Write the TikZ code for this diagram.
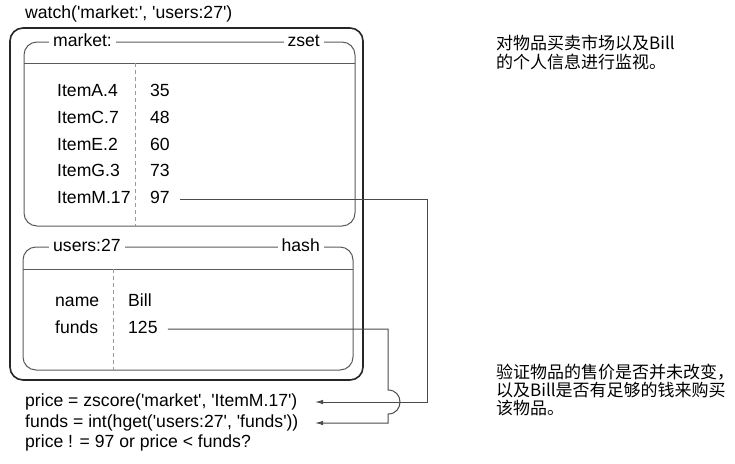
\documentclass[tikz,border=0pt]{standalone}
\usepackage{fontspec}
\setmainfont{Liberation Sans}[Ligatures=TeXOff]
\newfontfamily\cjk{Noto Sans CJK SC}
\usetikzlibrary{arrows.meta}

\definecolor{boxgray}{HTML}{5A5A5A}
\definecolor{linkgray}{HTML}{4A4A4A}
\definecolor{dashgray}{HTML}{9A9A9A}

\begin{document}
\begin{tikzpicture}[x=1pt, y=-1pt]
    % Define styles
    \tikzstyle{txt} = [anchor=west, inner sep=0pt, font=\fontsize{17.6}{20}\selectfont, text height=12.5pt, text depth=3.5pt]
    \tikzstyle{head} = [txt, fill=white, inner xsep=4pt]
    \tikzstyle{note} = [anchor=west, inner sep=0pt, align=left, font=\cjk\fontsize{17}{18.4}\selectfont]
    \tikzstyle{outerbox} = [draw=black!85, line width=1.6pt, rounded corners=13pt]
    \tikzstyle{keybox} = [draw=boxgray, line width=1pt, rounded corners=13pt]
    \tikzstyle{sep} = [draw=dashgray, line width=0.9pt, dash pattern=on 4pt off 3pt]
    \tikzstyle{link} = [draw=linkgray, line width=1pt, -{Latex[length=8pt,width=4.5pt]}]

    \useasboundingbox (0,0) rectangle (735,463);

    % Boxes
    \draw[outerbox] (10,28) rectangle (363,380);
    \draw[keybox] (24,42) rectangle (355,226);
    \draw[keybox] (23,247) rectangle (353,370);
    \draw[draw=boxgray, line width=1pt] (24,63) -- (355,63);
    \draw[draw=boxgray, line width=1pt] (23,269) -- (353,269);
    \draw[sep] (135,63) -- (135,226);
    \draw[sep] (113,269) -- (113,370);

    % Nodes
    \node[txt] (watch) at (25,14) {watch('market:', 'users:27')};
    \node[head] (mname) at (49,42) {market:};
    \node[head, anchor=east] (mtype) at (324,42) {zset};
    \node[head] (uname) at (49,247) {users:27};
    \node[head, anchor=east] (utype) at (324,247) {hash};

    \foreach \key/\val [count=\i] in {ItemA.4/35, ItemC.7/48, ItemE.2/60, ItemG.3/73, ItemM.17/97} {
        \node[txt] (mkey\i) at (57,{92+26.8*(\i-1)}) {\key};
        \node[txt] (mval\i) at (150,{92+26.8*(\i-1)}) {\val};
    }
    \foreach \key/\val [count=\i] in {name/Bill, funds/125} {
        \node[txt] (ukey\i) at (55,{302+27*(\i-1)}) {\key};
        \node[txt] (uval\i) at (128,{302+27*(\i-1)}) {\val};
    }

    \node[txt] (price) at (25,402) {price = zscore('market', 'ItemM.17')};
    \node[txt] (funds) at (25,423) {funds = int(hget('users:27', 'funds'))};
    \node[txt] (check) at (25,443) {price ! = 97 or price < funds?};

    \node[note] (note1) at (496,52.5) {对物品买卖市场以及Bill\\的个人信息进行监视。};
    \node[note] (note2) at (496,390) {验证物品的售价是否并未改变，\\以及Bill是否有足够的钱来购买\\该物品。};

    % Arrows between nodes
    \coordinate (turnM) at (427,0);
    \coordinate (turnU) at (388,0);
    \coordinate (tipx) at (315,0);
    \draw[link] ([xshift=10pt]mval5.east) -- (mval5.east -| turnM) -- (price.east -| turnM) -- (price.east -| tipx);
    \draw[link] ([xshift=10pt]uval2.east) -- (uval2.east -| turnU) -- ++(0,61)
        .. controls +(16,0) and +(16,0) .. ++(0,24) -- (funds.east -| turnU) -- (funds.east -| tipx);
\end{tikzpicture}
\end{document}
